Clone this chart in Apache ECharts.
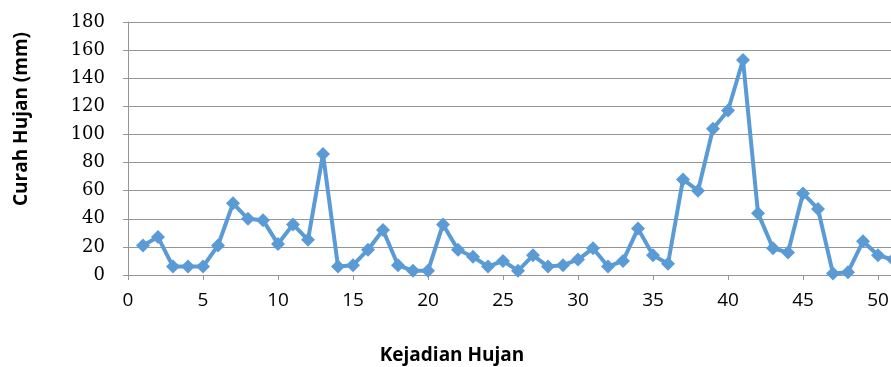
<!DOCTYPE html>
<html>
<head>
<meta charset="utf-8">
<script src="https://cdn.jsdelivr.net/npm/echarts@6/dist/echarts.min.js"></script>
<style>
  html, body { margin: 0; padding: 0; background: #fff; overflow: hidden; }
  #wrap { width: 891px; height: 367px; overflow: hidden; }
  #chart { width: 1100px; height: 367px; }
</style>
</head>
<body>
<div id="wrap"><div id="chart"></div></div>
<script>
// Kejadian hujan (event number) vs curah hujan (mm)
const kejadian = [1, 2, 3, 4, 5, 6, 7, 8, 9, 10, 11, 12, 13, 14, 15, 16, 17, 18, 19, 20,
  21, 22, 23, 24, 25, 26, 27, 28, 29, 30, 31, 32, 33, 34, 35, 36, 37, 38, 39, 40,
  41, 42, 43, 44, 45, 46, 47, 48, 49, 50, 51];
const curahHujan = [21, 27, 6, 6, 6, 21, 51, 40, 39, 22, 36, 25, 86, 6, 7, 18, 32, 7, 3, 3,
  36, 18, 13, 6, 10, 3, 14, 6, 7, 11, 19, 6, 10, 33, 14, 8, 68, 60, 104, 117,
  153, 44, 19, 16, 58, 47, 1, 2, 24, 14, 11];

const yTicks = { min: 0, max: 180, interval: 20 };
const xTicks = { min: 0, max: 60, interval: 5 };

// the original picture is cropped on the right, so the plot runs past the visible edge
const chart = echarts.init(document.getElementById('chart'));
const gridColor = '#959595';

chart.setOption({
  animation: false,
  grid: { left: 128, top: 22, height: 253, width: 900 },
  xAxis: {
    type: 'value',
    min: xTicks.min, max: xTicks.max, interval: xTicks.interval,
    axisLine: { show: true, lineStyle: { color: gridColor, width: 1 } },
    axisTick: { show: true, length: 5, lineStyle: { color: gridColor } },
    axisLabel: { margin: 16, color: '#000', fontSize: 19, fontFamily: 'Open Sans' },
    splitLine: { show: false }
  },
  yAxis: {
    type: 'value',
    min: yTicks.min, max: yTicks.max, interval: yTicks.interval,
    axisLine: { show: true, lineStyle: { color: gridColor, width: 1 } },
    axisTick: { show: true, length: 5, lineStyle: { color: gridColor } },
    axisLabel: { margin: 23, color: '#000', fontSize: 18, fontFamily: 'DejaVu Serif' },
    splitLine: { show: true, lineStyle: { color: gridColor, width: 1 } }
  },
  graphic: [
    {
      type: 'text', x: 452, y: 356,
      style: { text: 'Kejadian Hujan', fontSize: 19, fontWeight: 'bold',
        fontFamily: 'Open Sans', fill: '#000', textAlign: 'center', textVerticalAlign: 'middle' }
    },
    {
      type: 'text', x: 22, y: 119, rotation: Math.PI / 2,
      style: { text: 'Curah Hujan (mm)', fontSize: 19, fontWeight: 'bold',
        fontFamily: 'Open Sans', fill: '#000', textAlign: 'center', textVerticalAlign: 'middle' }
    }
  ],
  series: [{
    type: 'line',
    data: kejadian.map((k, i) => [k, curahHujan[i]]),
    symbol: 'diamond',
    symbolSize: 14,
    lineStyle: { color: '#5b9bd5', width: 4 },
    itemStyle: { color: '#5b9bd5' }
  }]
});
</script>
</body>
</html>
